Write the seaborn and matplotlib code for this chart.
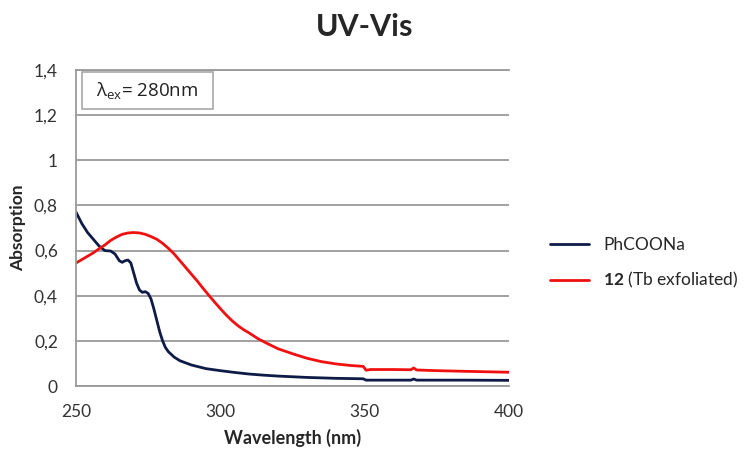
import matplotlib
matplotlib.use("Agg")
import matplotlib.pyplot as plt
from matplotlib.patches import Rectangle
import seaborn as sns
import pandas as pd

# Absorption spectra (wavelength in nm, absorbance)
phcoona_nm = [250, 252, 254, 256, 258, 260, 262, 263.5, 265, 266, 267, 268, 269,
              270, 271, 272, 273, 274, 275, 276, 277, 278, 279, 280, 281, 282,
              284, 286, 290, 295, 300, 305, 310, 315, 320, 325, 330, 335, 340,
              345, 349.5, 350.5, 355, 360, 366, 367, 368, 375, 385, 400]
phcoona_abs = [0.770, 0.720, 0.680, 0.650, 0.620, 0.600, 0.598, 0.585, 0.555,
               0.548, 0.555, 0.558, 0.545, 0.500, 0.455, 0.425, 0.415, 0.418,
               0.410, 0.385, 0.340, 0.290, 0.240, 0.200, 0.170, 0.152, 0.128,
               0.112, 0.093, 0.077, 0.068, 0.060, 0.053, 0.048, 0.044, 0.041,
               0.038, 0.036, 0.034, 0.033, 0.032, 0.026, 0.026, 0.026, 0.026,
               0.031, 0.026, 0.026, 0.026, 0.025]

tb_nm = [250, 252, 254, 256, 258, 260, 262, 264, 266, 268, 270, 272, 274, 276,
         278, 280, 282, 284, 286, 288, 290, 292, 294, 296, 298, 300, 302, 304,
         306, 308, 310, 313, 316, 320, 325, 330, 335, 340, 345, 349.5, 350.5,
         352, 360, 366, 367, 368, 375, 385, 400]
tb_abs = [0.545, 0.560, 0.575, 0.590, 0.608, 0.625, 0.645, 0.660, 0.672, 0.678,
          0.680, 0.678, 0.672, 0.662, 0.650, 0.632, 0.610, 0.585, 0.555, 0.525,
          0.495, 0.465, 0.433, 0.402, 0.372, 0.343, 0.315, 0.290, 0.268, 0.250,
          0.235, 0.210, 0.190, 0.165, 0.143, 0.123, 0.108, 0.098, 0.091, 0.087,
          0.070, 0.073, 0.073, 0.072, 0.080, 0.071, 0.068, 0.065, 0.061]

series_names = ["PhCOONa", "12 (Tb exfoliated)"]
legend_labels = ["PhCOONa", r"$\mathbf{12}$ (Tb exfoliated)"]
series_colors = ["#0E1B47", "#F01010"]

y_ticks = [0, 0.2, 0.4, 0.6, 0.8, 1.0, 1.2, 1.4]
y_tick_labels = ["0", "0,2", "0,4", "0,6", "0,8", "1", "1,2", "1,4"]
x_ticks = [250, 300, 350, 400]

df = pd.concat([
    pd.DataFrame({"Wavelength": phcoona_nm, "Absorption": phcoona_abs,
                  "Sample": series_names[0]}),
    pd.DataFrame({"Wavelength": tb_nm, "Absorption": tb_abs,
                  "Sample": series_names[1]}),
])

sns.set_style("white")
plt.rcParams["font.family"] = ["Lato", "DejaVu Sans"]
plt.rcParams["mathtext.fontset"] = "custom"
plt.rcParams["mathtext.rm"] = "Open Sans"
plt.rcParams["mathtext.bf"] = "Lato:bold"
plt.rcParams["mathtext.it"] = "Open Sans:italic"

fig = plt.figure(figsize=(7.49, 4.49), dpi=100)
ax = fig.add_axes([0.1015, 0.1403, 0.578, 0.7038])

sns.lineplot(data=df, x="Wavelength", y="Absorption", hue="Sample",
             palette=dict(zip(series_names, series_colors)), linewidth=2.0,
             sort=False, estimator=None, ax=ax, legend=False)

ax.set_xlim(250, 400)
ax.set_ylim(0, 1.4)
ax.set_yticks(y_ticks)
ax.set_yticklabels(y_tick_labels)
ax.set_xticks(x_ticks)
ax.tick_params(axis="both", length=0, labelsize=12.5, colors="#333333")
ax.tick_params(axis="y", pad=13)
ax.tick_params(axis="x", pad=13)
ax.yaxis.grid(True, color="#9A9A9A", linewidth=1.3)
ax.xaxis.grid(False)
ax.set_axisbelow(True)
ax.spines["right"].set_visible(False)
for side in ["left", "bottom", "top"]:
    ax.spines[side].set_color("#9A9A9A")
    ax.spines[side].set_linewidth(1.3)

ax.set_xlabel("Wavelength (nm)", fontsize=13, fontweight="bold", labelpad=6)
ax.set_ylabel("Absorption", fontsize=12.5, fontweight="bold", labelpad=6)

fig.suptitle("UV-Vis", x=0.487, y=0.97, fontsize=22, fontweight="bold")

# excitation wavelength box in the upper left of the plot area
ax.add_patch(Rectangle((0.014, 0.876), 0.302, 0.118, transform=ax.transAxes,
                       facecolor="white", edgecolor="#A8A8A8", linewidth=1.2,
                       zorder=3))
ax.text(0.165, 0.935, r"$\mathrm{\lambda}_{\mathrm{ex}}$= 280nm",
        transform=ax.transAxes, ha="center", va="center", fontsize=13.5,
        color="#222222", family=["Open Sans", "DejaVu Sans"], zorder=4)

handles = [plt.Line2D([], [], color=c, linewidth=2.0) for c in series_colors]
fig.legend(handles, legend_labels, loc="center left",
           bbox_to_anchor=(0.714, 0.413), frameon=False, fontsize=12.5,
           handlelength=2.2, handletextpad=0.85, labelspacing=1.0)

fig.savefig("out.png", dpi=100)
